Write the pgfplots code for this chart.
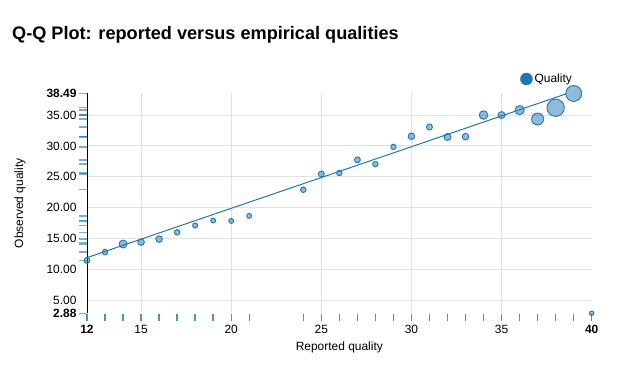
\documentclass[border=0pt]{standalone}
\usepackage{pgfplots}
\pgfplotsset{compat=1.18}
\usepackage{pgfplotstable}
\usepackage{fontspec}
\setmainfont{Liberation Sans}
\definecolor{c1}{HTML}{1F77B4}
\definecolor{gridc}{HTML}{E2E2E2}

\pgfplotstableread{
x y r
12 11.45 3.0
13 12.8 2.8
14 14.1 4.0
15 14.4 3.3
16 14.9 3.3
17 16.0 2.8
18 17.1 2.6
19 17.9 2.5
20 17.85 2.5
21 18.66 2.5
24 22.9 2.8
25 25.45 3.0
26 25.6 2.8
27 27.74 3.0
28 27.05 2.7
29 29.84 2.7
30 31.56 3.3
31 33.06 3.0
32 31.45 3.5
33 31.5 3.3
34 35.0 4.3
35 35.0 3.5
36 35.8 4.6
37 34.35 6.0
38 36.18 8.7
39 38.49 8.0
40 2.88 2.3
}\qq

\begin{document}
\begin{tikzpicture}
\useasboundingbox (0,0) rectangle (627bp,368bp);
\node[anchor=base west, font=\bfseries\fontsize{18.2}{20}\selectfont, inner sep=0pt] at (12bp,328bp) {Q-Q Plot: reported versus empirical qualities};
\begin{axis}[
  at={(87bp,54.7bp)}, anchor=south west,
  scale only axis, width=504.7bp, height=219.8bp,
  xmin=12, xmax=40, ymin=2.88, ymax=38.49,
  clip=false,
  axis y line*=left, axis x line*=bottom,
  x axis line style={draw=none},
  y axis line style={black, line width=1bp},
  xtick={15,20,25,30,35},
  xticklabels={15,20,25,30,35},
  ytick={5,10,15,20,25,30,35},
  yticklabels={5.00,10.00,15.00,20.00,25.00,30.00,35.00},
  extra x ticks={12,40}, extra x tick labels={\textbf{12},\textbf{40}},
  extra y ticks={2.88,38.49}, extra y tick labels={\textbf{2.88},\textbf{38.49}},
  extra x tick style={grid=none}, extra y tick style={grid=none},
  major tick length=0pt,
  grid=major, grid style={gridc, line width=1bp},
  tick label style={font=\fontsize{12}{14}\selectfont, black},
  xticklabel style={yshift=-8bp},
  yticklabel style={xshift=-7bp},
  xlabel={Reported quality}, ylabel={Observed quality},
  every axis x label/.style={at={(axis description cs:0.5,0)}, yshift=-34bp, anchor=center, font=\fontsize{12}{14}\selectfont},
  every axis y label/.style={at={(axis description cs:0,0.5)}, xshift=-67bp, rotate=90, anchor=center, font=\fontsize{12}{14}\selectfont},
  legend style={at={(rel axis cs:0.858,1.066)}, anchor=west, draw=none, fill=none, inner sep=0pt, font=\fontsize{12}{14}\selectfont},
  legend image code/.code={\fill[c1] (6bp,0bp) circle (6bp);},
]
% rug marks
\addplot[forget plot, only marks, mark=|, mark size=3.5bp, mark options={draw=c1, opacity=0.8, line width=1.4bp, yshift=-4.2bp}] table[x=x, y expr=2.88] \qq;
\addplot[forget plot, only marks, mark=-, mark size=4bp, mark options={draw=c1, opacity=0.6, line width=1.3bp, xshift=-4bp}] table[x expr=12, y=y] \qq;
% fitted line
\addplot[forget plot, c1, line width=1bp] coordinates {(12,11.9) (38.6,38.45)};
% points
\addplot[forget plot, scatter, only marks, mark=*,
  scatter/use mapped color={draw=c1, fill=c1, fill opacity=0.5},
  visualization depends on={\thisrow{r} \as \ptsize},
  scatter/@pre marker code/.append style={/tikz/mark size=\ptsize},
  mark options={line width=0.9bp}]
  table[x=x, y=y] \qq;
\addlegendimage{only marks, mark=*, c1}
\addlegendentry{Quality}
\end{axis}
\end{tikzpicture}
\end{document}
